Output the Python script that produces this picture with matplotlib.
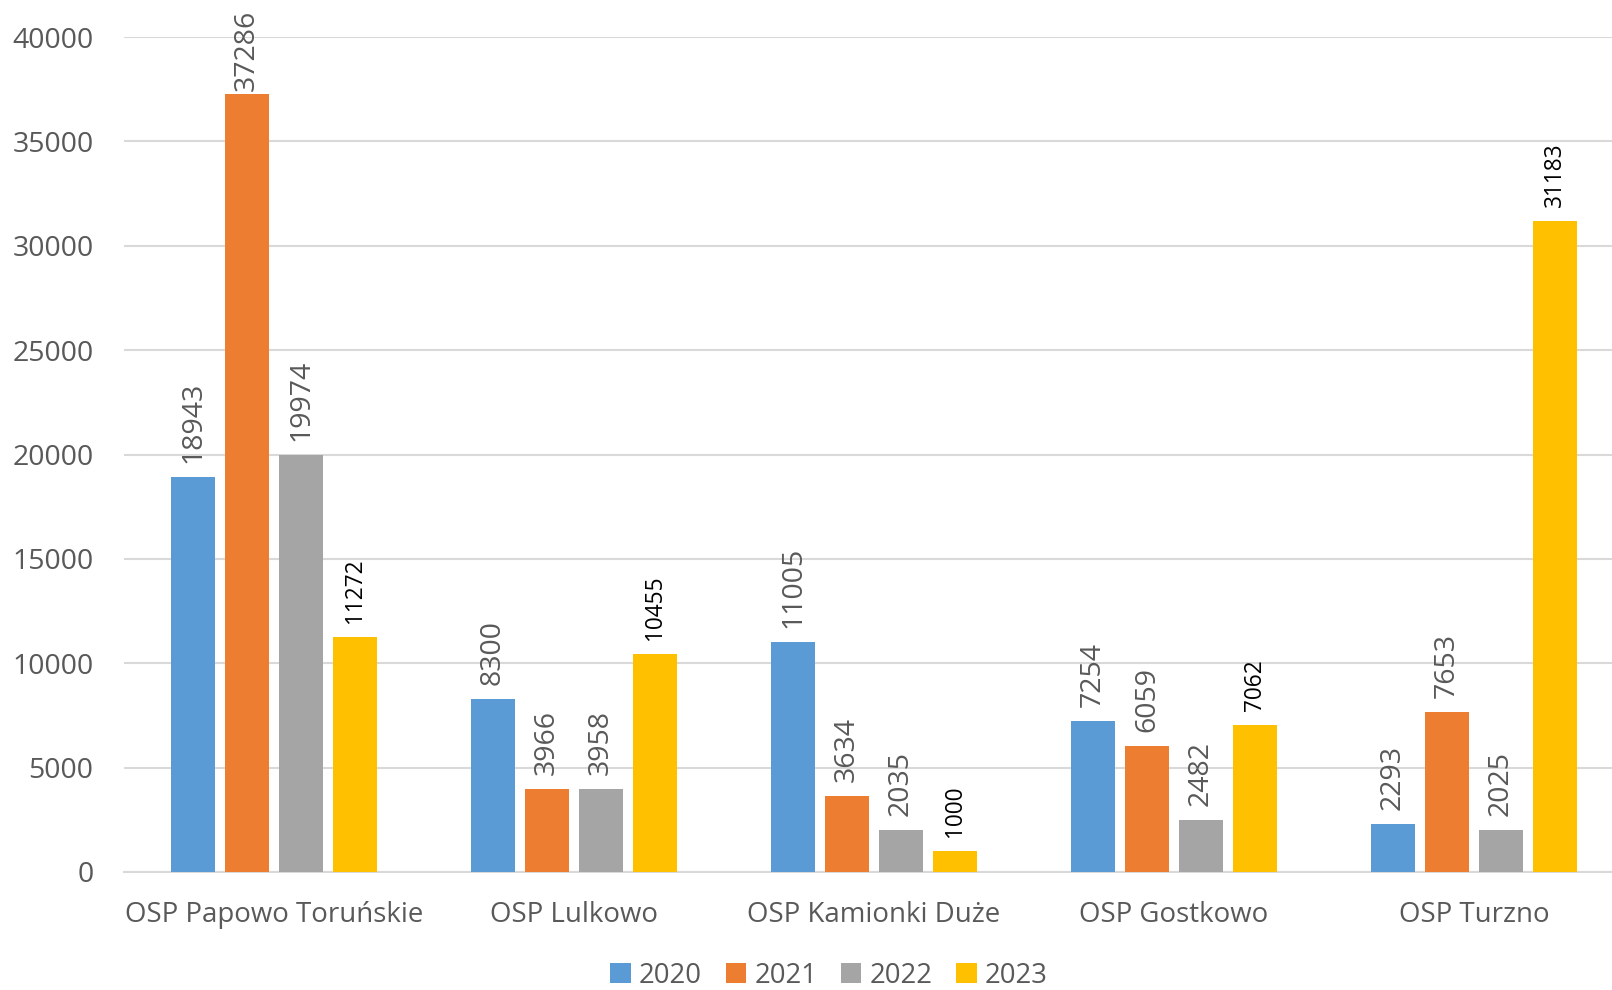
import numpy as np
import matplotlib.pyplot as plt

plt.rcParams['font.family'] = ['Open Sans', 'DejaVu Sans']

stations = ['OSP Papowo Toruńskie', 'OSP Lulkowo', 'OSP Kamionki Duże', 'OSP Gostkowo', 'OSP Turzno']
years = ['2020', '2021', '2022', '2023']
v2020 = [18943, 8300, 11005, 7254, 2293]
v2021 = [37286, 3966, 3634, 6059, 7653]
v2022 = [19974, 3958, 2035, 2482, 2025]
v2023 = [11272, 10455, 1000, 7062, 31183]

series = [v2020, v2021, v2022, v2023]
colors = ['#5B9BD5', '#ED7D31', '#A5A5A5', '#FFC000']
txt = '#595959'

fig = plt.figure(figsize=(16.12, 9.9), dpi=100)
ax = fig.add_axes([124 / 1612, 118 / 990, 1500 / 1612, 835 / 990])

x = np.arange(len(stations))
step = 0.18
width = 0.144
labels = []
for i, (vals, col, yr) in enumerate(zip(series, colors, years)):
    pos = x + (i - 1.5) * step
    ax.bar(pos, vals, width, color=col, label=yr, zorder=3)
    last = (i == 3)
    for px, v in zip(pos, vals):
        a = ax.annotate(str(v), (px, v), xytext=(0, 10), textcoords='offset points',
                        rotation=90, ha='center', va='bottom',
                        fontsize=16.3 if last else 20.5,
                        color='black' if last else txt, annotation_clip=False)
        labels.append(a)

ax.set_xlim(-0.5, 4.5)
ax.set_ylim(0, 40000)
ax.set_yticks(np.arange(0, 40001, 5000))
ax.yaxis.grid(True, color='#D9D9D9', linewidth=1.5, zorder=0)
ax.set_xticks(x)
ax.set_xticklabels(stations, fontsize=19.9)
ax.tick_params(axis='both', length=0, labelcolor=txt)
ax.tick_params(axis='y', labelsize=20.5, pad=22)
ax.tick_params(axis='x', pad=21)
for s in ['top', 'right', 'left']:
    ax.spines[s].set_visible(False)
ax.spines['bottom'].set_color('#D9D9D9')
ax.spines['bottom'].set_linewidth(1.5)

fig.legend(loc='center', bbox_to_anchor=(829 / 1612, 14 / 990), ncol=4, frameon=False,
           fontsize=19.8, labelcolor=txt, handlelength=0.75, handleheight=0.75,
           handletextpad=0.3, columnspacing=0.85)

# keep labels inside the figure like Excel does
fig.canvas.draw()
r = fig.canvas.get_renderer()
for a in labels:
    top = a.get_window_extent(r).y1
    limit = fig.bbox.height - 10
    if top > limit:
        shift = (top - limit) * 72 / fig.dpi
        a.xyann = (0, max(1, 10 - shift))

fig.savefig('out.png', dpi=100)
